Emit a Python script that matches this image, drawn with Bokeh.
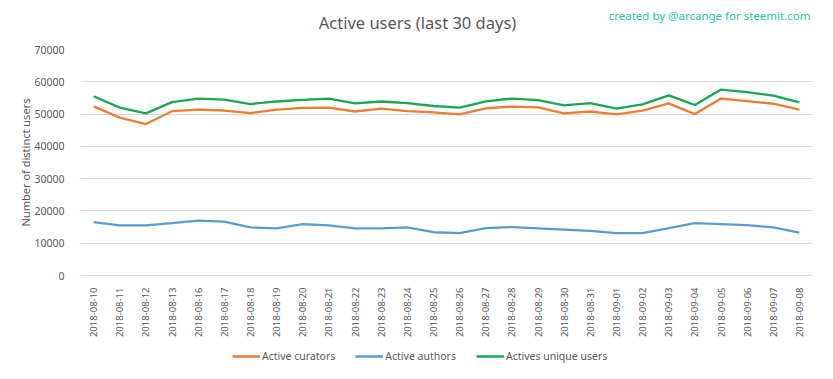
from bokeh.plotting import figure
from bokeh.models import Legend, LegendItem, Label, FactorRange, SingleIntervalTicker
from bokeh.layouts import column
from bokeh.embed import file_html
from bokeh.resources import INLINE
import math

dates = ["2018-08-10", "2018-08-11", "2018-08-12", "2018-08-13", "2018-08-16", "2018-08-17",
         "2018-08-18", "2018-08-19", "2018-08-20", "2018-08-21", "2018-08-22", "2018-08-23",
         "2018-08-24", "2018-08-25", "2018-08-26", "2018-08-27", "2018-08-28", "2018-08-29",
         "2018-08-30", "2018-08-31", "2018-09-01", "2018-09-02", "2018-09-03", "2018-09-04",
         "2018-09-05", "2018-09-06", "2018-09-07", "2018-09-08"]

curators = [52400, 48900, 46900, 50900, 51400, 51100, 50300, 51400, 51900, 52000, 50800, 51700,
            50900, 50500, 49900, 51800, 52300, 52100, 50200, 50800, 49900, 51100, 53300, 50000,
            54800, 54000, 53200, 51400]
authors = [16500, 15500, 15500, 16200, 17000, 16700, 14900, 14600, 15900, 15500, 14600, 14600,
           14900, 13400, 13100, 14700, 15000, 14600, 14200, 13800, 13100, 13100, 14700, 16200,
           15900, 15600, 14900, 13300]
unique_users = [55500, 52000, 50200, 53700, 54800, 54500, 53100, 53900, 54400, 54800, 53300, 53900,
                53400, 52500, 52000, 53900, 54800, 54300, 52700, 53400, 51700, 53000, 55800, 52800,
                57600, 56800, 55700, 53600]

series_names = ["Active curators", "Active authors", "Actives unique users"]
colors = ["#ED7D31", "#5B9BD5", "#17A755"]

FONT = "Noto Sans"
TXT = "#595959"
W = 817
LEFT = 80  # frame left edge (column aligns the frames of all three figures)

# --- header (title + credit) ---
head = figure(width=W, height=40, x_range=(0, 1), y_range=(0, 1),
              x_axis_type=None, y_axis_type=None, output_backend="svg",
              toolbar_location=None, min_border=0)
head.outline_line_color = None
head.grid.visible = False
head.add_layout(Label(x=417 - LEFT, y=18, x_units="screen", y_units="screen",
                      text="Active users (last 30 days)", text_font=FONT, text_font_size="16.5px",
                      text_color=TXT, text_align="center", text_baseline="middle"))
head.add_layout(Label(x=810 - LEFT, y=25, x_units="screen", y_units="screen",
                      text="created by @arcange for steemit.com", text_font=FONT,
                      text_font_size="11.5px", text_color="#20C9A3",
                      text_align="right", text_baseline="middle"))

# --- main chart ---
p = figure(width=W, height=305, x_range=FactorRange(*dates), y_range=(0, 70000),
           output_backend="svg", toolbar_location=None,
           min_border_left=LEFT, min_border_right=5, min_border_top=9, min_border_bottom=70)

for vals, c in zip([curators, authors, unique_users], colors):
    p.line(dates, vals, line_color=c, line_width=2.3)

p.outline_line_color = None
p.xgrid.grid_line_color = None
p.ygrid.grid_line_color = "#d9d9d9"
p.ygrid.grid_line_width = 1

p.yaxis.ticker = SingleIntervalTicker(interval=10000)
p.yaxis.axis_line_color = None
p.yaxis.major_tick_line_color = None
p.yaxis.minor_tick_line_color = None
p.yaxis.major_label_text_font = FONT
p.yaxis.major_label_text_font_size = "10.5px"
p.yaxis.major_label_text_color = TXT
p.yaxis.major_label_standoff = 10
p.yaxis.axis_label = "Number of distinct users"
p.yaxis.axis_label_text_font = FONT
p.yaxis.axis_label_text_font_size = "11px"
p.yaxis.axis_label_text_font_style = "normal"
p.yaxis.axis_label_text_color = TXT
p.yaxis.axis_label_standoff = -2

p.xaxis.axis_line_color = "#d9d9d9"
p.xaxis.major_tick_line_color = None
p.xaxis.minor_tick_line_color = None
p.xaxis.major_label_orientation = math.pi / 2
p.xaxis.major_label_text_font = FONT
p.xaxis.major_label_text_font_size = "9.5px"
p.xaxis.major_label_text_color = TXT
p.xaxis.major_label_standoff = 6

# --- legend strip ---
lf = figure(width=W, height=18, x_range=(0, 1), y_range=(0, 1),
            x_axis_type=None, y_axis_type=None, output_backend="svg",
            toolbar_location=None, min_border=0)
lf.outline_line_color = None
lf.grid.visible = False
items = []
for n, c in zip(series_names, colors):
    r = lf.line([float("nan")], [float("nan")], line_color=c, line_width=2.5)
    items.append(LegendItem(label=n, renderers=[r]))
legend = Legend(items=items, orientation="horizontal", location=(232 - LEFT, 0),
                label_text_font=FONT, label_text_font_size="10.5px", label_text_color=TXT,
                glyph_width=28, glyph_height=10, spacing=20, label_standoff=2,
                border_line_color=None, background_fill_alpha=0, padding=2, margin=0)
lf.add_layout(legend)

layout = column(head, p, lf, spacing=0)
open("out.html", "w").write(file_html(layout, INLINE))
